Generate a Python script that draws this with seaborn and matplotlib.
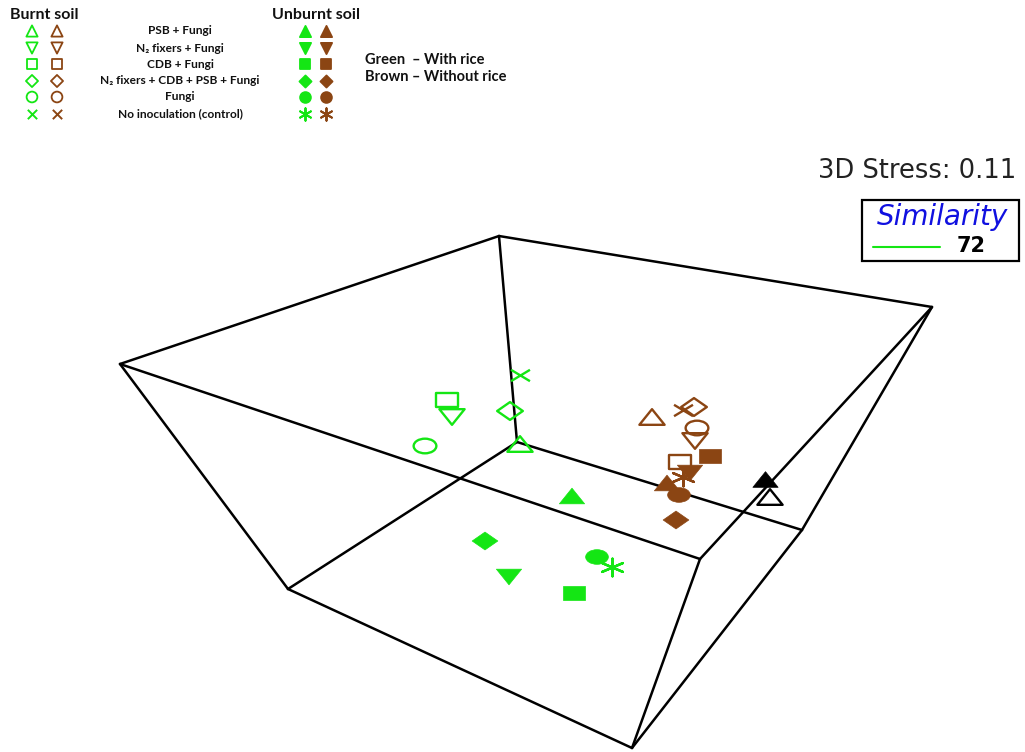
import matplotlib

matplotlib.use("Agg")
import matplotlib.pyplot as plt
from matplotlib.markers import MarkerStyle
from matplotlib.transforms import Affine2D
import seaborn as sns
import pandas as pd

sns.set_theme(style="white")
plt.rcParams["font.family"] = ["Lato", "DejaVu Sans"]

# treatments, in legend order
treatments = [
    "PSB + Fungi",
    "N\u2082 fixers + Fungi",
    "CDB + Fungi",
    "N\u2082 fixers + CDB + PSB + Fungi",
    "Fungi",
    "No inoculation (control)",
]

# nMDS ordination, projected on the page plane
burnt_rice_x = [520, 452, 447, 510, 425, 520]
burnt_rice_y = [444, 417, 400, 411, 446, 375]
unburnt_rice_x = [572, 509, 574, 485, 597, 612]
unburnt_rice_y = [496, 577, 593, 541, 557, 567]
burnt_norice_x = [652, 695, 680, 694, 697, 683]
burnt_norice_y = [417, 441, 462, 407, 428, 410]
unburnt_norice_x = [667, 690, 710, 676, 679, 683]
unburnt_norice_y = [483, 473, 456, 520, 495, 477]
ref_x = [765, 770]
ref_y = [479, 497]

# 3D bounding box (projected corners) and its edges
box_x = [120, 499, 932, 700, 288, 517, 802, 632]
box_y = [364, 236, 307, 559, 589, 442, 530, 748]
box_edges = [(0, 1), (1, 2), (2, 3), (3, 0), (4, 5), (5, 6), (6, 7), (7, 4),
             (0, 4), (1, 5), (2, 6), (3, 7)]

stress = 0.11
similarity = 72

green = "#14e614"
brown = "#8b4513"


# the ordination picture is stretched sideways, so are its symbols
def squash(m, sx, sy):
    return MarkerStyle(m, transform=Affine2D().scale(sx, sy))


shape_markers = dict(zip(treatments[:5], [
    squash("^", 1.0, 0.62),
    squash("v", 1.0, 0.62),
    squash("s", 0.85, 0.52),
    squash("D", 0.72, 0.5),
    squash("o", 0.9, 0.58),
]))
x_marker = squash("x", 0.75, 0.45)
star_marker = squash((6, 2, 0), 0.95, 0.7)

fig = plt.figure(figsize=(10.25, 7.52), dpi=100)
ax = fig.add_axes([0, 0, 1, 1])
ax.set_xlim(0, 1025)
ax.set_ylim(752, 0)
ax.axis("off")

for a, b in box_edges:
    ax.plot([box_x[a], box_x[b]], [box_y[a], box_y[b]], color="black", lw=1.8,
            solid_capstyle="round", zorder=1)


def draw_group(xs, ys, color, filled):
    df = pd.DataFrame({"x": xs[:5], "y": ys[:5], "treatment": treatments[:5]})
    sns.scatterplot(data=df, x="x", y="y", style="treatment", markers=shape_markers,
                    s=330, color=color, facecolor=color if filled else "none",
                    edgecolor=color, linewidth=0.5 if filled else 1.7,
                    legend=False, ax=ax, zorder=3)
    sns.scatterplot(x=xs[5:], y=ys[5:], marker=star_marker if filled else x_marker,
                    s=330, color=color, linewidth=1.7, legend=False, ax=ax, zorder=3)


draw_group(burnt_rice_x, burnt_rice_y, green, False)
draw_group(unburnt_rice_x, unburnt_rice_y, green, True)
draw_group(burnt_norice_x, burnt_norice_y, brown, False)
draw_group(unburnt_norice_x, unburnt_norice_y, brown, True)

sns.scatterplot(x=ref_x[:1], y=ref_y[:1], marker=squash("^", 1.0, 0.62), s=330,
                color="black", edgecolor="black", linewidth=0.5, legend=False, ax=ax, zorder=3)
sns.scatterplot(x=ref_x[1:], y=ref_y[1:], marker=squash("^", 1.0, 0.62), s=330,
                color="black", facecolor="none", edgecolor="black", linewidth=1.7,
                legend=False, ax=ax, zorder=3)

ax.set_xlabel("")
ax.set_ylabel("")

# ---- key in the upper left corner
rows_y = [31, 48, 64, 81, 97, 114]
leg_shapes = ["^", "v", "s", "D", "o"]
leg_sizes = [65, 65, 50, 38, 60]
for i, name in enumerate(treatments):
    for cx, col, filled in [(32, green, False), (57, brown, False),
                            (305, green, True), (326, brown, True)]:
        if i < 5:
            sns.scatterplot(x=[cx], y=[rows_y[i]], marker=leg_shapes[i], s=leg_sizes[i],
                            color=col, facecolor=col if filled else "none", edgecolor=col,
                            linewidth=1.3, legend=False, ax=ax)
        else:
            sns.scatterplot(x=[cx], y=[rows_y[i]], marker=(6, 2, 0) if filled else "x",
                            s=80 if filled else 45, color=col, linewidth=1.4,
                            legend=False, ax=ax)
    ax.text(180, rows_y[i], name, ha="center", va="center", fontsize=8.6, fontweight="bold",
            color="#111111")

ax.text(10, 15, "Burnt soil", ha="left", va="center", fontsize=11.5, fontweight="bold",
        color="#111111")
ax.text(272, 15, "Unburnt soil", ha="left", va="center", fontsize=11.5, fontweight="bold",
        color="#111111")
ax.text(365, 60, "Green  \u2013 With rice", ha="left", va="center", fontsize=10.5,
        fontweight="bold", color="#111111")
ax.text(365, 77, "Brown \u2013 Without rice", ha="left", va="center", fontsize=10.5,
        fontweight="bold", color="#111111")

# ---- stress value and similarity key
ax.text(1016, 171, f"3D Stress: {stress:.2f}", ha="right", va="center", fontsize=18.5,
        family="DejaVu Sans", color="#222222")
ax.add_patch(plt.Rectangle((862, 200), 157, 61, fill=False, ec="black", lw=1.6))
ax.text(942, 217, "Similarity", ha="center", va="center", fontsize=20, style="italic",
        family="DejaVu Sans", color="#1010e0")
ax.plot([873, 940], [247, 247], color=green, lw=1.5)
ax.text(971, 246, str(similarity), ha="center", va="center", fontsize=15,
        fontweight="bold", family="DejaVu Sans", color="black")

fig.savefig("out.png", dpi=100)
